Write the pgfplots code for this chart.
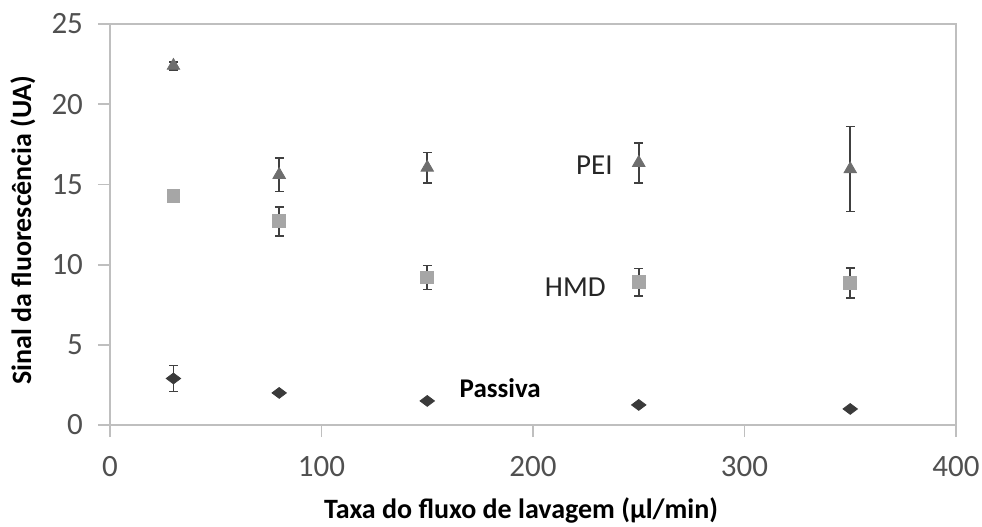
\documentclass[border=0pt]{standalone}
\usepackage{pgfplots}
\pgfplotsset{compat=1.18}
\usepackage{fontspec}
\setmainfont{Carlito}

\definecolor{framegray}{HTML}{BFBFBF}
\definecolor{ticktext}{HTML}{505050}
\definecolor{peicol}{HTML}{6E6E6E}
\definecolor{hmdcol}{HTML}{A6A6A6}
\definecolor{passcol}{HTML}{3A3A3A}
\definecolor{errcol}{HTML}{404040}

\begin{document}
\begin{tikzpicture}
\begin{axis}[
    scale only axis,
    width=423pt, height=200.5pt,
    xmin=0, xmax=400, ymin=0, ymax=25,
    xtick={0,100,...,400},
    ytick={0,5,...,25},
    tick align=outside,
    major tick length=6pt,
    xtick pos=bottom, ytick pos=left,
    axis line style={framegray, line width=0.9pt},
    every tick/.style={framegray, line width=0.9pt},
    tick label style={font=\fontsize{15.5}{18}\selectfont, text=ticktext},
    /pgf/number format/assume math mode=true,
    xticklabel style={yshift=-6pt},
    yticklabel style={xshift=-4pt},
    xlabel={Taxa do fluxo de lavagem (µl/min)},
    ylabel={Sinal da fluorescência (UA)},
    label style={font=\bfseries\fontsize{14}{16}\selectfont},
    xlabel style={at={(axis description cs:0.486,-0.212)}, anchor=center, inner sep=0pt},
    ylabel style={at={(axis description cs:-0.103,0.486)}, anchor=center},
    error bars/y dir=both,
    error bars/y explicit,
    error bars/error mark options={rotate=90, mark size=2.2pt, line width=0.8pt, errcol},
    error bars/error bar style={line width=0.8pt, errcol},
]
% PEI
\addplot[only marks, mark=triangle*, mark size=3.6pt, mark options={draw=peicol, fill=peicol}]
coordinates {
    (30,22.4)  +- (0,0.25)
    (80,15.6)  +- (0,1.05)
    (150,16.05) +- (0,0.95)
    (250,16.35) +- (0,1.25)
    (350,15.95) +- (0,2.65)
};
% HMD
\addplot[only marks, mark=square*, mark size=3.2pt, mark options={draw=hmdcol, fill=hmdcol}]
coordinates {
    (30,14.3)  +- (0,0)
    (80,12.7)  +- (0,0.9)
    (150,9.2)  +- (0,0.75)
    (250,8.9)  +- (0,0.85)
    (350,8.85) +- (0,0.95)
};
% Passiva
\addplot[only marks, mark=diamond*, mark size=3.6pt, mark options={draw=passcol, fill=passcol, rotate=90}]
coordinates {
    (30,2.9)   +- (0,0.8)
    (80,2.0)   +- (0,0)
    (150,1.5)  +- (0,0)
    (250,1.25) +- (0,0)
    (350,1.0)  +- (0,0)
};
\node[font=\fontsize{14.5}{17}\selectfont, text=black!85] at (axis cs:229,16.2) {PEI};
\node[font=\fontsize{14.5}{17}\selectfont, text=black!85] at (axis cs:220,8.6) {HMD};
\node[font=\bfseries\fontsize{13.5}{15}\selectfont] at (axis cs:184.5,2.3) {Passiva};
\end{axis}
\pgfresetboundingbox
\path[use as bounding box] (-55pt,-50.5pt) rectangle (436pt,212.5pt);
\end{tikzpicture}
\end{document}
